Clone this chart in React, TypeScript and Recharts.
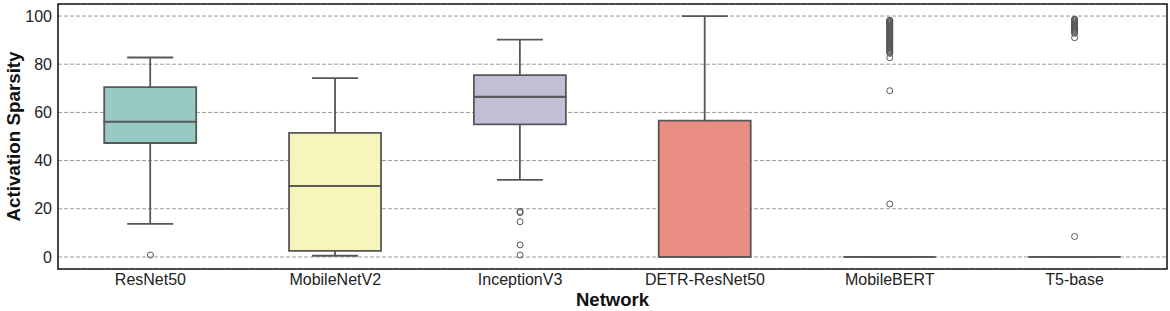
import React from 'react';
import { ComposedChart, Bar, Scatter, XAxis, YAxis, CartesianGrid, ReferenceArea } from 'recharts';

const networks = ['ResNet50', 'MobileNetV2', 'InceptionV3', 'DETR-ResNet50', 'MobileBERT', 'T5-base'];
const whiskerLow = [13.7, 0.5, 32.0, 0, 0, 0];
const q1 = [47.3, 2.5, 55.0, 0, 0, 0];
const median = [56.2, 29.5, 66.5, 0, 0, 0];
const q3 = [70.5, 51.5, 75.5, 56.6, 0, 0];
const whiskerHigh = [82.8, 74.2, 90.2, 100, 0, 0];

const outliersResNet50 = [0.8];
const outliersMobileNetV2: number[] = [];
const outliersInceptionV3 = [18.9, 18.4, 14.6, 5.0, 0.8];
const outliersDETR: number[] = [];
const outliersMobileBERT = [
  22.0, 69.0, 82.7, 84.5, 85.0, 85.4, 85.8, 86.2, 86.6, 87.0, 87.4, 87.8, 88.2, 88.6, 89.0, 89.4,
  89.8, 90.2, 90.6, 91.0, 91.4, 91.8, 92.2, 92.6, 93.0, 93.4, 93.8, 94.2, 94.6, 95.0, 95.4, 95.8,
  96.2, 96.6, 97.0, 97.4, 97.8, 98.1, 98.3,
];
const outliersT5 = [
  8.5, 91.0, 92.8, 93.3, 93.8, 94.2, 94.6, 95.0, 95.4, 95.8, 96.2, 96.6, 97.0, 97.4, 97.8, 98.2, 98.5, 98.7,
];
const outlierLists = [outliersResNet50, outliersMobileNetV2, outliersInceptionV3, outliersDETR, outliersMobileBERT, outliersT5];

const yTicks = [0, 20, 40, 60, 80, 100];

const boxFills = ['#96cac2', '#f5f5bc', '#c1bed6', '#ea8e83', '#8cb1cb', '#f0b77c'];
const LINE = '#575757';
const FONT = "'Liberation Sans', Arial, sans-serif";

const data = networks.map((name, i) => ({
  name,
  base: whiskerLow[i],
  lowW: q1[i] - whiskerLow[i],
  boxLo: median[i] - q1[i],
  boxHi: q3[i] - median[i],
  highW: whiskerHigh[i] - q3[i],
}));

const outlierData = networks.flatMap((name, i) => outlierLists[i].map((v) => ({ name, v })));

const EmptyShape = () => <g />;

const LowWhisker = (p: any) => {
  const cx = p.x + p.width / 2;
  const cap = p.width / 4;
  const yb = p.y + p.height;
  return (
    <g>
      <line x1={cx} x2={cx} y1={p.y} y2={yb} stroke={LINE} strokeWidth={1.8} />
      <line x1={cx - cap} x2={cx + cap} y1={yb} y2={yb} stroke={LINE} strokeWidth={1.8} />
    </g>
  );
};

const HighWhisker = (p: any) => {
  const cx = p.x + p.width / 2;
  const cap = p.width / 4;
  return (
    <g>
      <line x1={cx} x2={cx} y1={p.y} y2={p.y + p.height} stroke={LINE} strokeWidth={1.8} />
      <line x1={cx - cap} x2={cx + cap} y1={p.y} y2={p.y} stroke={LINE} strokeWidth={1.8} />
    </g>
  );
};

const BoxShape = (p: any) => {
  const d = `M${p.x},${p.y}h${p.width}v${p.height}h${-p.width}Z`;
  return <path d={d} fill={boxFills[p.index]} stroke={LINE} strokeWidth={1.8} />;
};

const Flier = (p: any) => (
  <circle cx={p.cx} cy={p.cy} r={3} fill="#ffffff" fillOpacity={0} stroke={LINE} strokeWidth={1} />
);

const YLabel = (props: any) => {
  const vb = props.viewBox || {};
  const x = vb.x + 13;
  const y = vb.y + vb.height / 2;
  return (
    <text
      x={x}
      y={y}
      transform={`rotate(-90, ${x}, ${y})`}
      textAnchor="middle"
      dominantBaseline="central"
      fontFamily={FONT}
      fontWeight="bold"
      fontSize={18.8}
      fill="#111"
    >
      Activation Sparsity
    </text>
  );
};

export default function App() {
  return (
    <div style={{ position: 'absolute', left: 0, top: 0, background: '#fff' }}>
      <ComposedChart
        width={1170}
        height={311}
        data={data}
        margin={{ top: 4, right: 3, left: 0, bottom: 0 }}
        barCategoryGap="25%"
        style={{ fontFamily: FONT }}
      >
        <CartesianGrid vertical={false} stroke="#9a9a9a" strokeDasharray="4 2" strokeWidth={1} />
        <XAxis
          dataKey="name"
          type="category"
          allowDuplicatedCategory={false}
          interval={0}
          tickLine={false}
          axisLine={false}
          tickSize={0}
          tickMargin={5}
          height={42}
          tick={{ fontSize: 16, fill: '#222', fontFamily: FONT }}
          label={{
            value: 'Network',
            position: 'insideBottom',
            offset: 5,
            style: { fontWeight: 'bold', fontSize: 18.5, fill: '#111', fontFamily: FONT },
          }}
        />
        <YAxis
          type="number"
          domain={[-5, 105]}
          ticks={yTicks}
          allowDataOverflow
          tickLine={false}
          axisLine={false}
          tickSize={0}
          tickMargin={6}
          width={58}
          tick={{ fontSize: 16, fill: '#222', fontFamily: FONT }}
          label={{ content: YLabel }}
        />
        <Bar dataKey="base" stackId="box" shape={EmptyShape} isAnimationActive={false} />
        <Bar dataKey="lowW" stackId="box" shape={LowWhisker} isAnimationActive={false} />
        <Bar dataKey="boxLo" stackId="box" shape={BoxShape} isAnimationActive={false} />
        <Bar dataKey="boxHi" stackId="box" shape={BoxShape} isAnimationActive={false} />
        <Bar dataKey="highW" stackId="box" shape={HighWhisker} isAnimationActive={false} />
        <Scatter data={outlierData} dataKey="v" shape={Flier} isAnimationActive={false} />
        <ReferenceArea y1={-5} y2={105} fill="none" fillOpacity={0} stroke="#1a1a1a" strokeWidth={1.6} ifOverflow="visible" />
      </ComposedChart>
    </div>
  );
}
